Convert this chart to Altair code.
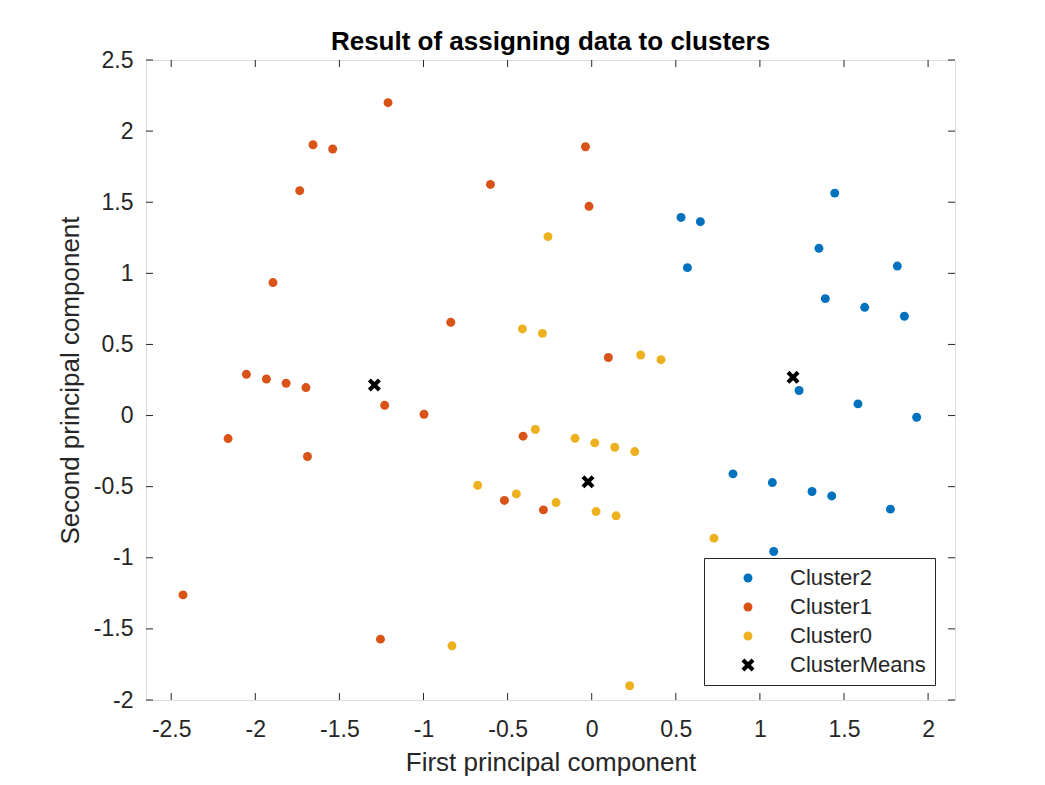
import altair as alt
import pandas as pd

# ---- data ----
c2_x = [0.531, 0.646, 0.569, 1.445, 1.351, 1.817, 1.389, 1.623, 1.859, 1.233, 1.583, 1.932,
        0.840, 1.074, 1.310, 1.427, 1.776, 1.082]
c2_y = [1.393, 1.363, 1.040, 1.564, 1.176, 1.051, 0.822, 0.761, 0.698, 0.176, 0.082, -0.012,
        -0.410, -0.471, -0.534, -0.565, -0.658, -0.956]

c1_x = [-1.211, -1.657, -1.540, -1.736, -0.602, -1.895, -0.838, -0.037, -0.016, 0.099,
        -2.053, -1.934, -1.817, -1.699, -1.231, -0.997, -2.162, -1.690, -0.408, -0.519,
        -0.287, -2.430, -1.256]
c1_y = [2.200, 1.904, 1.874, 1.581, 1.625, 0.935, 0.656, 1.890, 1.471, 0.408,
        0.290, 0.257, 0.227, 0.197, 0.072, 0.009, -0.162, -0.288, -0.145, -0.597,
        -0.663, -1.261, -1.572]

c0_x = [-0.260, -0.412, -0.293, 0.291, 0.412, -0.335, -0.678, -0.448, -0.831, -0.099,
        0.018, 0.137, 0.256, -0.212, 0.026, 0.145, 0.727, 0.226]
c0_y = [1.258, 0.609, 0.578, 0.426, 0.393, -0.098, -0.490, -0.551, -1.619, -0.160,
        -0.192, -0.223, -0.253, -0.612, -0.675, -0.705, -0.862, -1.900]

mean_x = [-1.292, -0.022, 1.197]
mean_y = [0.215, -0.466, 0.269]

x_ticks = [-2.5, -2, -1.5, -1, -0.5, 0, 0.5, 1, 1.5, 2]
y_ticks = [-2, -1.5, -1, -0.5, 0, 0.5, 1, 1.5, 2, 2.5]

groups = ["Cluster2", "Cluster1", "Cluster0", "ClusterMeans"]
colors = ["#0072BD", "#D95319", "#EDB120", "#000000"]

# bold "x" marker (drawn larger than the unit box so it is ~13 px at size 80)
X_PATH = ("M-1.45,-0.8L-0.8,-1.45L0,-0.65L0.8,-1.45L1.45,-0.8L0.65,0L1.45,0.8L0.8,1.45"
          "L0,0.65L-0.8,1.45L-1.45,0.8L-0.65,0Z")

rows = []
for name, xs, ys in [("Cluster2", c2_x, c2_y), ("Cluster1", c1_x, c1_y),
                     ("Cluster0", c0_x, c0_y), ("ClusterMeans", mean_x, mean_y)]:
    for a, b in zip(xs, ys):
        rows.append({"x": a, "y": b, "group": name})
df = pd.DataFrame(rows)

W, H = 809, 640
XDOM = [-2.65, 2.16]
YDOM = [-2.0, 2.5]
FONT = "Liberation Sans"
TXT = "#262626"
LABEL = "'' + datum.value"

xscale = alt.Scale(domain=XDOM, nice=False, zero=False)
yscale = alt.Scale(domain=YDOM, nice=False, zero=False)

xaxis = alt.Axis(values=x_ticks, title="First principal component",
                 grid=False, domain=False, ticks=False, tickSize=0,
                 labelFlush=False, labelOverlap=False, labelExpr=LABEL,
                 labelFontSize=23, labelFont=FONT, labelColor=TXT,
                 labelPadding=18,
                 titleFontSize=26, titleFont=FONT, titleColor=TXT,
                 titleFontWeight="normal",
                 titleX=W / 2, titleY=70, titleBaseline="alphabetic",
                 titleAlign="center")
yaxis = alt.Axis(values=y_ticks, title="Second principal component",
                 grid=False, domain=False, ticks=False, tickSize=0,
                 labelFlush=False, labelOverlap=False, labelExpr=LABEL,
                 labelFontSize=23, labelFont=FONT, labelColor=TXT,
                 labelPadding=13,
                 titleFontSize=26, titleFont=FONT, titleColor=TXT,
                 titleFontWeight="normal",
                 titleX=-68, titleY=H / 2, titleAngle=270,
                 titleBaseline="alphabetic", titleAlign="center")

points = alt.Chart(df).mark_point(filled=True, opacity=1, strokeWidth=0, size=80).encode(
    x=alt.X("x:Q", scale=xscale, axis=xaxis),
    y=alt.Y("y:Q", scale=yscale, axis=yaxis),
    color=alt.Color("group:N", scale=alt.Scale(domain=groups, range=colors),
                    legend=alt.Legend(title=None)),
    shape=alt.Shape("group:N",
                    scale=alt.Scale(domain=groups,
                                    range=["circle", "circle", "circle", X_PATH]),
                    legend=alt.Legend(title=None)),
)

xt = pd.DataFrame({"x": x_ticks})
yt = pd.DataFrame({"y": y_ticks})

tick_color = TXT
xb = alt.Chart(xt).mark_rule(color=tick_color, strokeWidth=1).encode(
    x=alt.X("x:Q", scale=xscale, axis=xaxis), y=alt.value(H), y2=alt.value(H - 7))
xtp = alt.Chart(xt).mark_rule(color=tick_color, strokeWidth=1).encode(
    x=alt.X("x:Q", scale=xscale, axis=xaxis), y=alt.value(0), y2=alt.value(7))
yl = alt.Chart(yt).mark_rule(color=tick_color, strokeWidth=1).encode(
    y=alt.Y("y:Q", scale=yscale, axis=yaxis), x=alt.value(0), x2=alt.value(7))
yr = alt.Chart(yt).mark_rule(color=tick_color, strokeWidth=1).encode(
    y=alt.Y("y:Q", scale=yscale, axis=yaxis), x=alt.value(W), x2=alt.value(W - 7))

chart = alt.layer(points, xb, xtp, yl, yr).properties(
    width=W, height=H,
    title=alt.TitleParams("Result of assigning data to clusters", fontSize=26,
                          font=FONT, fontWeight="bold", color="#000000",
                          anchor="middle", baseline="alphabetic", offset=0, dy=27),
    autosize=alt.AutoSizeParams(type="none"),
    padding={"left": 138, "top": 52, "right": 82, "bottom": 77},
).configure_view(
    stroke="#1a1a1a", strokeWidth=1.2, fill="white"
).configure(background="white").configure_legend(
    orient="none", legendX=558, legendY=498,
    fillColor="white", strokeColor=TXT, strokeWidth=1, cornerRadius=0,
    padding=9, labelFontSize=22, labelFont=FONT, labelColor=TXT,
    symbolSize=80, symbolOffset=24, labelOffset=31, rowPadding=7,
    symbolStrokeWidth=0,
)

chart.save("out.html", embed_options={"renderer": "svg", "actions": False})
